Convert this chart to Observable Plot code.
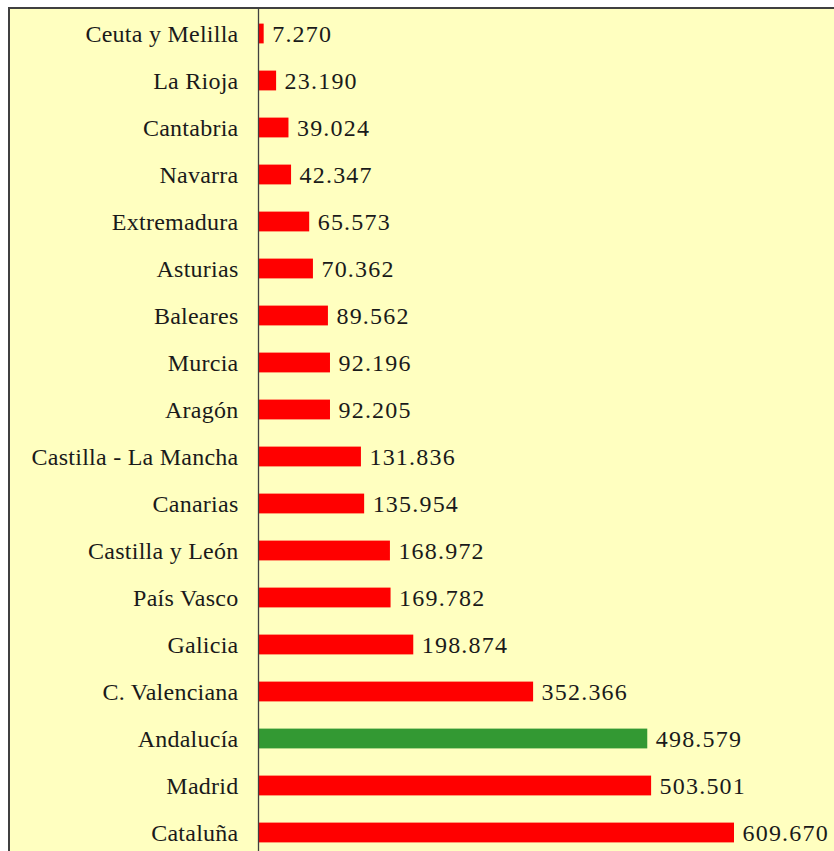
<!DOCTYPE html>
<html>
<head>
<meta charset="utf-8">
<script src="https://cdn.jsdelivr.net/npm/d3@7"></script>
<script src="https://cdn.jsdelivr.net/npm/@observablehq/plot@0.6"></script>
<style>
  html, body { margin: 0; padding: 0; background: #fff; }
  #wrap { position: relative; width: 834px; height: 851px; overflow: hidden; background: #fff; }
  #bg { position: absolute; left: 8px; top: 7px; right: 0; bottom: 0; background: #FFFFC0;
        border-left: 2px solid #404040; border-top: 2px solid #404040; }
  #chart { position: absolute; left: 0; top: 0; }
</style>
</head>
<body>
<div id="wrap"><div id="bg"></div><div id="chart"></div></div>
<script>
const regions = ["Ceuta y Melilla","La Rioja","Cantabria","Navarra","Extremadura","Asturias","Baleares","Murcia","Aragón","Castilla - La Mancha","Canarias","Castilla y León","País Vasco","Galicia","C. Valenciana","Andalucía","Madrid","Cataluña"];
const values = [7270,23190,39024,42347,65573,70362,89562,92196,92205,131836,135954,168972,169782,198874,352366,498579,503501,609670];
const highlight = "Andalucía";

const data = regions.map((r, i) => ({region: r, value: values[i]}));
const fmt = d3.formatLocale({thousands: ".", grouping: [3], decimal: ","}).format(",d");

const chart = Plot.plot({
  width: 834,
  height: 851,
  marginLeft: 258,
  marginRight: 100,
  marginTop: 8,
  marginBottom: 0,
  style: {background: "transparent", fontFamily: "'Liberation Serif', serif", fontSize: "24px", color: "#1a1a1a"},
  x: {domain: [0, d3.max(values)], axis: null},
  y: {domain: regions, range: [8.4, 857.6], padding: 0, label: null},
  marks: [
    Plot.barX(data, {x: "value", y: "region", insetTop: 13.6, insetBottom: 13.6,
      fill: d => d.region === highlight ? "#339933" : "#FF0000"}),
    Plot.ruleX([0], {stroke: "#404040", strokeWidth: 1.3}),
    Plot.text(data, {x: "value", y: "region", text: d => fmt(d.value), dx: 8, textAnchor: "start",
      fill: "#1a1a1a", fontSize: 24}),
    Plot.axisY({tickSize: 0, tickPadding: 20, fontSize: 24, fill: "#1a1a1a", label: null})
  ]
});
chart.querySelectorAll("text").forEach(t => t.setAttribute("font-size", "24"));
chart.querySelectorAll('g[aria-label="text"] text').forEach(t => t.setAttribute("letter-spacing", "1.2"));
chart.querySelectorAll('g[aria-label="y-axis tick label"] text').forEach(t => t.setAttribute("letter-spacing", "0.25"));
document.getElementById("chart").appendChild(chart);
</script>
</body>
</html>
